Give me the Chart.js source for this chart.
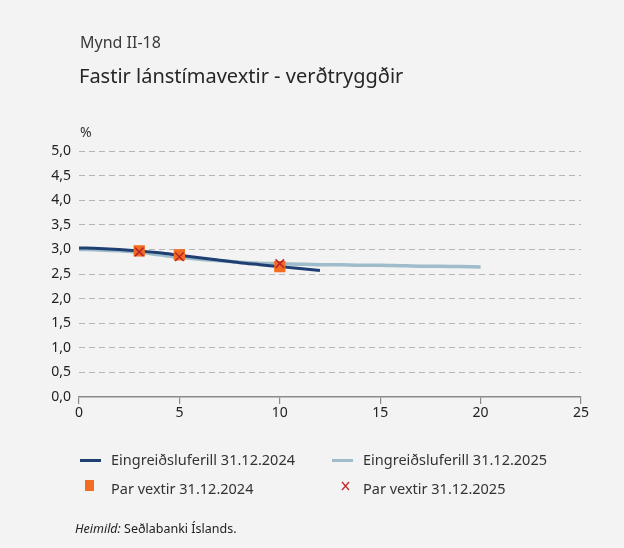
<!DOCTYPE html>
<html>
<head>
<meta charset="utf-8">
<script src="https://cdn.jsdelivr.net/npm/chart.js@4"></script>
<style>
  html, body { margin:0; padding:0; background:#f3f3f3; }
  body { width:624px; height:548px; position:relative; overflow:hidden; font-family:"Noto Sans","Open Sans",sans-serif; color:#333; }
  #c { position:absolute; left:0; top:0; }
  .t { position:absolute; white-space:nowrap; line-height:1; }
  .leg { position:absolute; font-size:14.5px; color:#333; white-space:nowrap; line-height:1; }
  .ln { position:absolute; height:3px; width:21px; }
  .sq { position:absolute; width:9px; height:11px; background:#f26d21; }
  .xm { position:absolute; }
</style>
</head>
<body>
<canvas id="c" width="624" height="548"></canvas>
<div class="t" style="left:80px;top:34px;font-size:16px;color:#3a3a3a;">Mynd II-18</div>
<div class="t" style="left:79px;top:66px;font-size:20px;color:#262626;">Fastir lánstímavextir - verðtryggðir</div>
<div class="t" style="left:80px;top:125px;font-size:14px;color:#333;">%</div>

<div class="ln" style="left:80px;top:459px;background:#1f3f73;"></div>
<div class="leg" style="left:111px;top:452px;">Eingreiðsluferill 31.12.2024</div>
<div class="ln" style="left:332px;top:459px;background:#9fbccb;"></div>
<div class="leg" style="left:363px;top:452px;">Eingreiðsluferill 31.12.2025</div>
<div class="sq" style="left:85px;top:480px;"></div>
<div class="leg" style="left:111px;top:481px;">Par vextir 31.12.2024</div>
<svg class="xm" style="left:341px;top:481px;" width="9" height="10"><path d="M1 1 L8 9 M8 1 L1 9" stroke="#c0272d" stroke-width="1.3" fill="none"/></svg>
<div class="leg" style="left:363px;top:481px;">Par vextir 31.12.2025</div>

<div class="t" style="left:75px;top:523px;font-size:12.5px;color:#222;"><i>Heimild:</i> Seðlabanki Íslands.</div>

<script>
const curve2024X = [0,1,2,3,4,5,6,7,8,9,10,11,12];
const curve2024Y = [3.03,3.02,3.00,2.97,2.93,2.88,2.83,2.78,2.73,2.69,2.65,2.61,2.57];
const curve2025X = [0,1,2,3,4,5,6,7,8,9,10,11,12,13,14,15,16,17,18,19,20];
const curve2025Y = [3.00,2.99,2.97,2.94,2.89,2.84,2.80,2.77,2.74,2.72,2.71,2.70,2.69,2.69,2.68,2.68,2.67,2.66,2.66,2.65,2.64];
const parX = [3,5,10];
const par2024 = [2.97,2.89,2.65];
const par2025 = [2.95,2.85,2.71];
const yTicks = [0,0.5,1,1.5,2,2.5,3,3.5,4,4.5,5];
const xTicks = [0,5,10,15,20,25];

const toPts = (xs, ys) => xs.map((x,i)=>({x:x,y:ys[i]}));

new Chart(document.getElementById('c'), {
  type:'scatter',
  data:{
    datasets:[
      {label:'Par vextir 31.12.2025', data:toPts(parX,par2025), showLine:false, pointStyle:'crossRot', pointRadius:6, borderColor:'#b8262c', backgroundColor:'#b8262c', pointBorderWidth:1.6, order:1},
      {label:'Par vextir 31.12.2024', data:toPts(parX,par2024), showLine:false, pointStyle:'rect', pointRadius:8, borderWidth:0, backgroundColor:'#f26d21', borderColor:'#f26d21', order:2},
      {label:'Eingreiðsluferill 31.12.2024', data:toPts(curve2024X,curve2024Y), showLine:true, pointRadius:0, borderColor:'#1f3f73', borderWidth:3, cubicInterpolationMode:'monotone', order:3},
      {label:'Eingreiðsluferill 31.12.2025', data:toPts(curve2025X,curve2025Y), showLine:true, pointRadius:0, borderColor:'#9fbccb', borderWidth:3.5, cubicInterpolationMode:'monotone', order:4}
    ]
  },
  options:{
    responsive:false, animation:false,
    layout:{padding:{left:0, top:151, right:43, bottom:121}},
    plugins:{legend:{display:false}, tooltip:{enabled:false}},
    scales:{
      x:{
        type:'linear', min:0, max:25,
        afterBuildTicks:(s)=>{ s.ticks = xTicks.map(v=>({value:v})); },
        afterFit:(s)=>{ s.height = 30; },
        grid:{drawOnChartArea:false, drawTicks:true, tickLength:7, color:'#8a8a8a', lineWidth:1.2},
        border:{display:true, color:'#8a8a8a', width:1.5},
        ticks:{color:'#222', font:{family:'Noto Sans', size:14}, padding:1, maxRotation:0}
      },
      y:{
        type:'linear', min:0, max:5,
        afterBuildTicks:(s)=>{ s.ticks = yTicks.map(v=>({value:v})); },
        afterFit:(s)=>{ s.width = 79; },
        grid:{drawTicks:false, color:(ctx)=> ctx.tick && ctx.tick.value===0 ? 'rgba(0,0,0,0)' : '#b5b5b5', lineWidth:1},
        border:{display:false, dash:[6,4]},
        ticks:{color:'#222', font:{family:'Noto Sans', size:14}, padding:8,
          callback:(v)=> v.toFixed(1).replace('.', ',')}
      }
    }
  }
});
</script>
</body>
</html>
